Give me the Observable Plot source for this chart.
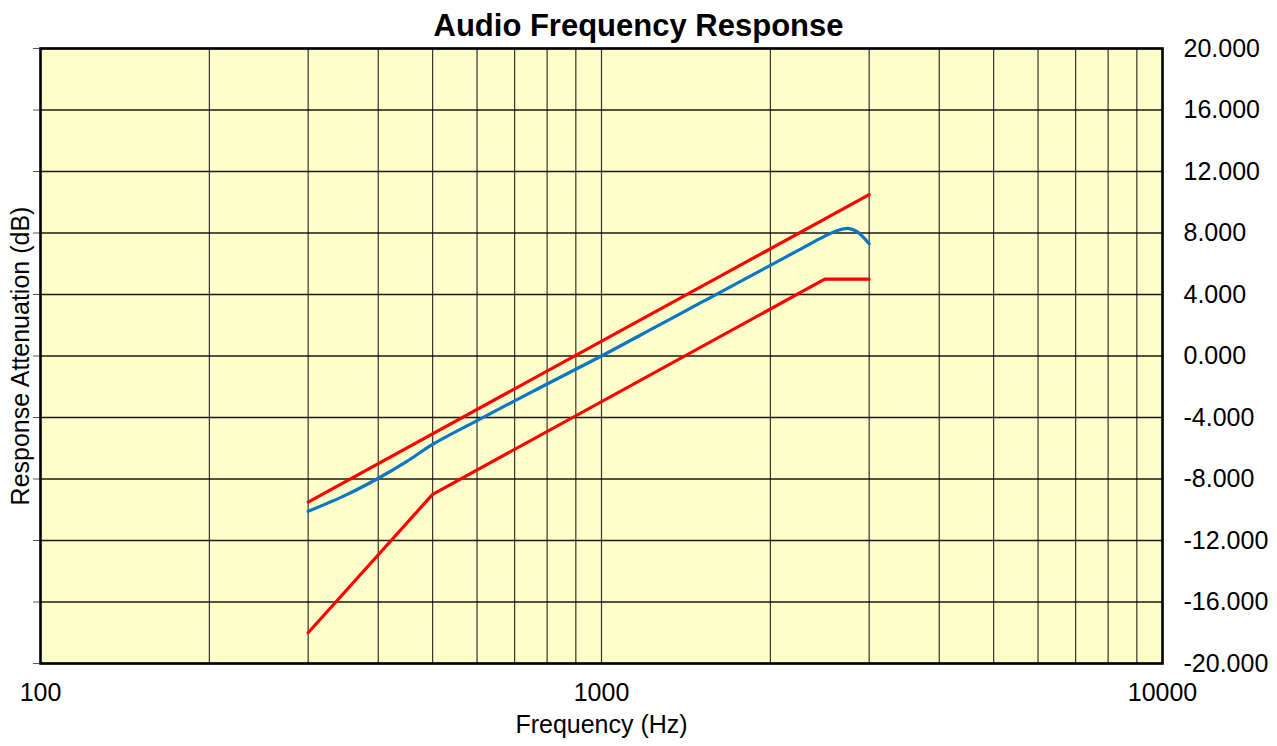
<!DOCTYPE html>
<html>
<head>
<meta charset="utf-8">
<script src="https://cdn.jsdelivr.net/npm/d3@7"></script>
<script src="https://cdn.jsdelivr.net/npm/@observablehq/plot@0.6"></script>
<style>
  html, body { margin: 0; padding: 0; background: #ffffff; }
  #chart { width: 1277px; height: 746px; }
</style>
</head>
<body>
<div id="chart"></div>
<script>
// ---- data ----
const title = "Audio Frequency Response";
const xLabel = "Frequency (Hz)";
const yLabel = "Response Attenuation (dB)";

const upperFreq = [300, 3000];
const upperDb = [-9.5, 10.5];

const lowerFreq = [300, 500, 2500, 3000];
const lowerDb = [-18, -9, 5, 5];

const respFreq = [300, 350, 400, 450, 500, 600, 700, 800, 900, 1000, 1200, 1500, 1800, 2000, 2250, 2500, 2650, 2750, 2850, 3000];
const respDb   = [-10.1, -9.05, -7.95, -6.85, -5.75, -4.2, -2.92, -1.82, -0.86, 0.0, 1.55, 3.45, 5.0, 5.9, 6.9, 7.8, 8.2, 8.3, 8.1, 7.3];

const xTickLabels = [100, 1000, 10000];
const xGrid = [200, 300, 400, 500, 600, 700, 800, 900, 1000, 2000, 3000, 4000, 5000, 6000, 7000, 8000, 9000];
const yTicks = [-20, -16, -12, -8, -4, 0, 4, 8, 12, 16, 20];

const upper = upperFreq.map((f, i) => ({f, v: upperDb[i]}));
const lower = lowerFreq.map((f, i) => ({f, v: lowerDb[i]}));
const resp = respFreq.map((f, i) => ({f, v: respDb[i]}));

const chart = Plot.plot({
  width: 1277,
  height: 746,
  marginLeft: 40,
  marginRight: 115,
  marginTop: 48,
  marginBottom: 83,
  style: {fontFamily: "'Liberation Sans', Arial, sans-serif", fontSize: "25px", background: "#ffffff", color: "#000"},
  x: {type: "log", domain: [100, 10000]},
  y: {domain: [-20, 20]},
  marks: [
    Plot.frame({fill: "#ffffcc", stroke: null}),
    Plot.ruleX(xGrid, {stroke: "#111", strokeWidth: 1.2, strokeOpacity: 0.85}),
    Plot.ruleY(yTicks, {stroke: "#000", strokeWidth: 1.3, strokeOpacity: 0.9}),
    Plot.line(upper, {x: "f", y: "v", stroke: "#ff0000", strokeWidth: 3.2}),
    Plot.line(lower, {x: "f", y: "v", stroke: "#ff0000", strokeWidth: 3.2}),
    Plot.line(resp, {x: "f", y: "v", stroke: "#0a76c4", strokeWidth: 3.2, curve: "catmull-rom"}),
    Plot.axisY({anchor: "right", ticks: yTicks, tickSize: 0, tickPadding: 21, tickFormat: d => d.toFixed(3), label: null, fontSize: 25}),
    Plot.axisY({anchor: "left", ticks: yTicks, tickSize: 7, tickFormat: () => "", label: null, stroke: "#555"}),
    Plot.axisX({ticks: xTickLabels, tickSize: 0, tickPadding: 20, tickFormat: d => String(d), label: null, fontSize: 25}),
    Plot.frame({stroke: "#000", strokeWidth: 2.6}),
    Plot.text([title], {frameAnchor: "top", dx: 37, dy: -22, text: d => d, fontSize: 31, fontWeight: "bold", lineAnchor: "middle"}),
    Plot.text([xLabel], {frameAnchor: "bottom", dy: 61, text: d => d, fontSize: 25, lineAnchor: "middle"}),
    Plot.text([yLabel], {frameAnchor: "left", dx: -20, rotate: -90, text: d => d, fontSize: 25, textAnchor: "middle", lineAnchor: "middle"})
  ]
});
document.getElementById("chart").appendChild(chart);
</script>
</body>
</html>
